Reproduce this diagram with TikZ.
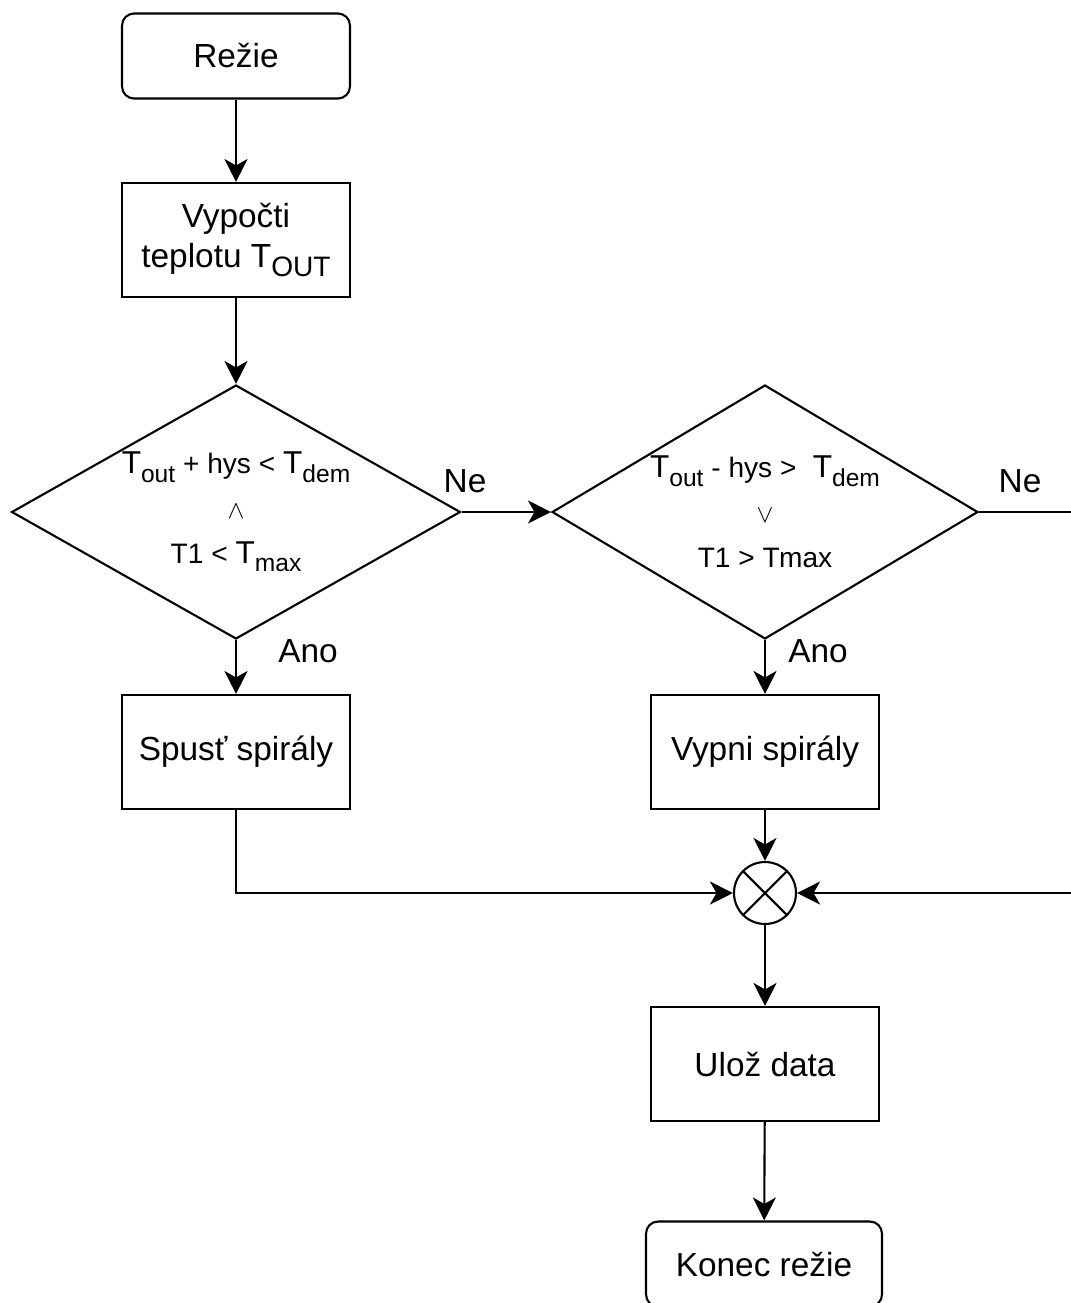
\documentclass[tikz,border=0pt]{standalone}
\usepackage{fontspec}
\setmainfont{Liberation Sans}
\usetikzlibrary{arrows.meta, positioning, shapes.geometric}

% T with a lowered index, as in the decisions
\newcommand{\Tix}[1]{{\fontsize{18}{18}\selectfont T}\raisebox{-0.55ex}{\fontsize{14}{14}\selectfont #1}}

\begin{document}
\begin{tikzpicture}[
      x=0.02cm, y=-0.02cm, line width=1.2pt,
      >={Stealth[length=4.6mm, width=4.6mm, inset=1.3mm]},
      term/.style={draw, rounded corners=2.4mm, minimum width=4.56cm,
                   minimum height=1.7cm, font=\fontsize{19}{23}\selectfont},
      proc/.style={draw, minimum width=4.56cm, minimum height=2.28cm,
                   align=center, font=\fontsize{19}{23}\selectfont},
      dec/.style={draw, diamond, inner sep=0pt, minimum height=5.08cm,
                  align=center, font=\fontsize{16}{25.5}\selectfont},
      lbl/.style={font=\fontsize{19}{19}\selectfont}]

    \useasboundingbox (0,0) rectangle (1071,1303);

    % === left column ===
    \node[term] (rezie) at (236,56) {Režie};
    \node[proc] (vyp) at (236,240) {Vypočti\\teplotu T\raisebox{-0.5ex}{\fontsize{16}{16}\selectfont OUT}};
    \node[dec, aspect=1.77, minimum width=8.98cm] (d1) at (236,512)
        {\Tix{out} + hys < \Tix{dem}\\ {\fontsize{14.5}{14.5}\selectfont$\wedge$}\\ T1 < \Tix{max}};
    \node[proc] (spust) at (236,752) {Spusť spirály};

    % === right column ===
    \node[dec, aspect=1.68, minimum width=8.52cm] (d2) at (765,512)
        {\Tix{out} - hys >\hspace{0.3em} \Tix{dem}\\ {\fontsize{14.5}{14.5}\selectfont$\vee$}\\ T1 > T\kern-0.4pt max};
    \node[proc] (vypni) at (765,752) {Vypni spirály};
    \node[draw, circle, minimum size=1.24cm, inner sep=0pt] (sum) at (765,893) {};
    \draw (sum.north west) -- (sum.south east) (sum.north east) -- (sum.south west);
    \node[proc] (uloz) at (765,1064) {Ulož data};
    \node[term, minimum width=4.72cm] (konec) at (764,1264) {Konec režie};

    % branch labels
    \node[lbl] (ne1) at (465,481) {Ne};
    \node[lbl] (ne2) at (1020,481) {Ne};
    \node[lbl] (ano1) at (308,651) {Ano};
    \node[lbl] (ano2) at (818,651) {Ano};

    \coordinate (offr) at (1110,893);

    % connectors
    \draw[->] (rezie) -- (vyp);
    \draw[->] (vyp) -- (d1);
    \draw[->] (d1.east) -- (d2.west);
    \draw[->] (d1.south) -- (spust);
    \draw[->] (d2.south) -- (vypni);
    \draw[->] (d2.east) -| (offr) -- (sum.east);
    \draw[->] (spust.south) |- (sum.west);
    \draw[->] (vypni) -- (sum);
    \draw[->] (sum) -- (uloz);
    \draw[->] (uloz) -- (konec);

\end{tikzpicture}
\end{document}
